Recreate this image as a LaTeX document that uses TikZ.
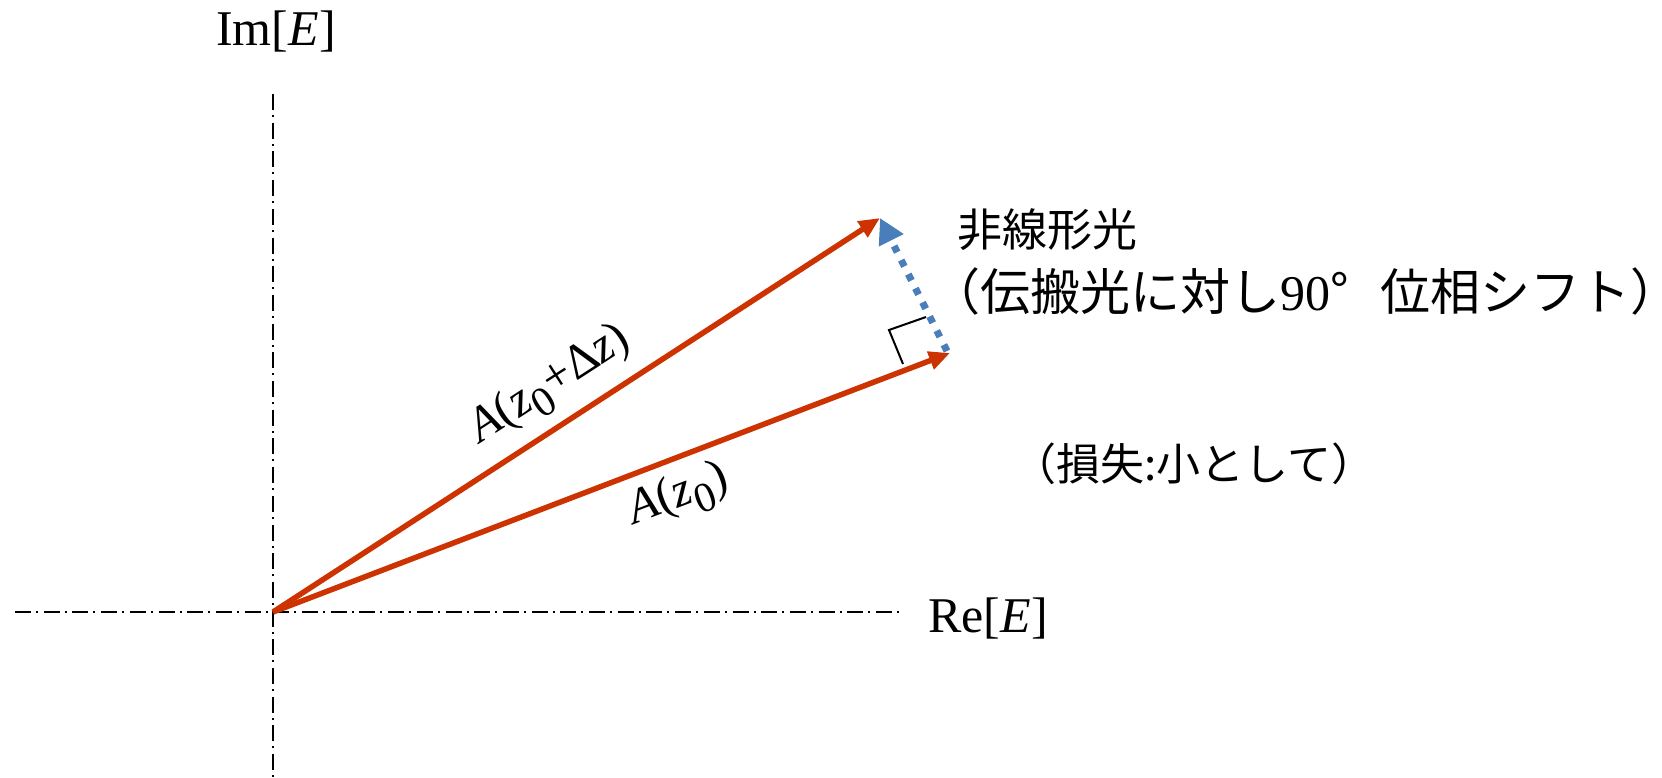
\documentclass[tikz,border=0pt]{standalone}
\usepackage{fontspec}
\setmainfont{Liberation Serif}
\newfontfamily\cjk{Noto Sans CJK JP}
\usetikzlibrary{arrows.meta}
\definecolor{vecred}{RGB}{204,51,0}
\definecolor{phblue}{RGB}{74,126,187}
\newcommand\lowsub[1]{\raisebox{-0.28em}{\fontsize{42}{42}\selectfont #1}}
\begin{document}
\begin{tikzpicture}[x=1pt,y=-1pt,
  axisline/.style={black, line width=2pt, dash pattern=on 16pt off 5pt on 2pt off 5.7pt},
  vec/.style={vecred, line width=5.5pt, -{Triangle[length=21pt,width=18pt]}},
  nlarrow/.style={phblue, line width=7pt, dash pattern=on 7pt off 8.8pt, -{Triangle[length=25pt,width=26pt]}},
  rightmark/.style={black, line width=2pt},
  lbl/.style={inner sep=0pt, font=\fontsize{50}{60}\selectfont},
  veclbl/.style={inner sep=0pt, font=\fontsize{49}{56}\selectfont},
  cjklbl/.style={inner sep=0pt, font=\cjk\fontsize{45}{56}\selectfont},
  cjkline/.style={inner sep=0pt, font=\cjk\fontsize{50}{56}\selectfont},
  cjksmall/.style={inner sep=0pt, font=\cjk\fontsize{44}{50}\selectfont}]
\useasboundingbox (0,0) rectangle (1662,778);
% axes
\coordinate (xl) at (15,612);
\coordinate (xr) at (903,612);
\coordinate (yt) at (273,94);
\coordinate (yb) at (273,778);
\draw[axisline] (xl) -- (xr);
\draw[axisline] (yt) -- (yb);
% vectors
\coordinate (O) at (273,612);
\coordinate (P1) at (950,353);
\coordinate (P2) at (880,218);
\coordinate (Q) at (947,351);
\draw[vec] (O) -- (P2);
\draw[vec] (O) -- (P1);
\draw[nlarrow] (Q) -- (P2);
% right angle mark
\coordinate (r1) at (926,317);
\coordinate (r2) at (889,330);
\coordinate (r3) at (903,364);
\draw[rightmark] (r1) -- (r2) -- (r3);
% labels
\node[lbl] (im) at (276,32) {Im[\textit{E}]};
\node[lbl] (re) at (988,618) {Re[\textit{E}]};
\node[veclbl, rotate=32.9] (la2) at (551,386) {\textit{A}(\textit{z}\lowsub{0}+Δ\textit{z})};
\node[veclbl, rotate=20.8] (la1) at (679,497) {\textit{A}(\textit{z}\lowsub{0})};
\node[cjklbl, anchor=west] (nl1) at (957,230) {非線形光};
\node[cjkline, anchor=west] (nl2) at (930,291) {（伝搬光に対し{\fontspec{Liberation Serif}\fontsize{50}{56}\selectfont 90}\makebox[1em][l]{°}位相シフト）};
\node[cjksmall] (loss) at (1194,464) {（損失:小として）};
\end{tikzpicture}
\end{document}
